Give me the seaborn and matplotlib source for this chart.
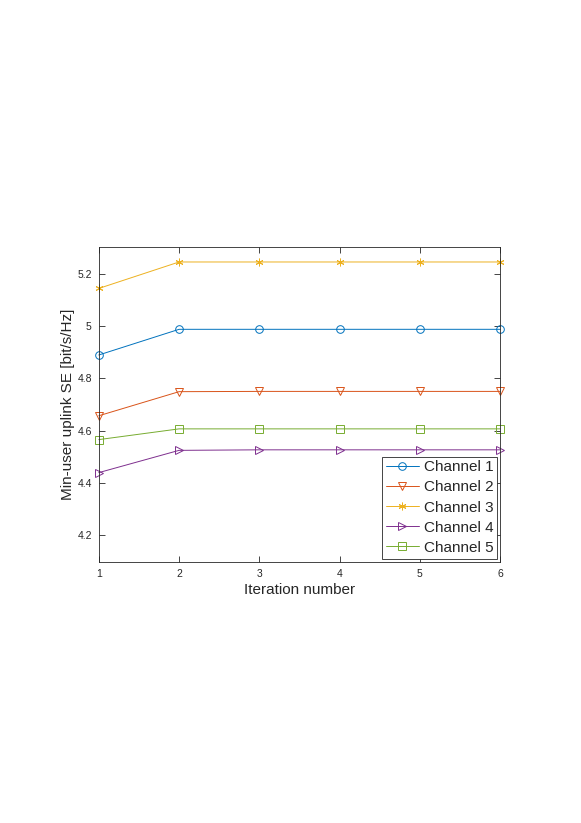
import pandas as pd
import matplotlib
matplotlib.use('Agg')
import matplotlib.pyplot as plt
import seaborn as sns

# ── Data ──────────────────────────────────────────────────────────────────────
iterations = [1, 2, 3, 4, 5, 6]
channel_1 = [4.889, 4.987, 4.987, 4.987, 4.987, 4.987]
channel_2 = [4.657, 4.749, 4.750, 4.750, 4.750, 4.750]
channel_3 = [5.143, 5.244, 5.244, 5.244, 5.244, 5.244]
channel_4 = [4.440, 4.525, 4.527, 4.527, 4.527, 4.527]
channel_5 = [4.566, 4.607, 4.607, 4.607, 4.607, 4.607]
labels = ['Channel 1', 'Channel 2', 'Channel 3', 'Channel 4', 'Channel 5']

series = [channel_1, channel_2, channel_3, channel_4, channel_5]
df = pd.concat([pd.DataFrame({'Iteration': iterations, 'SE': s, 'Channel': lab})
                for s, lab in zip(series, labels)], ignore_index=True)

# ── Style ─────────────────────────────────────────────────────────────────────
sns.set_theme(style='white')
plt.rcParams['font.family'] = ['Liberation Sans', 'DejaVu Sans']

colors = ['#0072BD', '#D95319', '#EDB120', '#7E2F8E', '#77AC30']
markers = ['o', 'v', '*', '>', 's']
palette = dict(zip(labels, colors))
marker_map = dict(zip(labels, markers))
ASTERISK = (6, 2, 0)   # MATLAB-style '*' (line art)

fig = plt.figure(figsize=(5.81, 8.23), dpi=100)
ax = fig.add_axes([0.170, 0.3175, 0.691, 0.382])

sns.lineplot(data=df, x='Iteration', y='SE', hue='Channel', style='Channel',
             palette=palette, markers=marker_map, dashes=False, linewidth=0.7,
             markersize=5.5, markeredgewidth=0.7, ax=ax)


def restyle(line, c, lab):
    line.set_markeredgecolor(c)
    line.set_markerfacecolor('none')
    if lab == 'Channel 3':
        line.set_marker(ASTERISK)


# hollow markers with coloured edges, not clipped at the axes border
for line, c, lab in zip(ax.get_lines(), colors, labels):
    restyle(line, c, lab)
    line.set_clip_on(False)

ax.set_xlim(1, 6)
ax.set_ylim(4.1, 5.3)
ax.set_xticks(iterations)
ax.set_yticks([4.2, 4.4, 4.6, 4.8, 5.0, 5.2])
ax.set_yticklabels(['4.2', '4.4', '4.6', '4.8', '5', '5.2'])
ax.tick_params(direction='in', length=4, width=0.6, labelsize=7.5, colors='#262626',
               top=True, right=True, bottom=True, left=True, pad=5)
for sp in ax.spines.values():
    sp.set_color('#262626')
    sp.set_linewidth(0.6)

ax.set_xlabel('Iteration number', fontsize=11, color='#262626', labelpad=3)
ax.set_ylabel('Min-user uplink SE [bit/s/Hz]', fontsize=11, color='#262626', labelpad=2)

handles, _ = ax.get_legend_handles_labels()
for h, c, lab in zip(handles, colors, labels):
    restyle(h, c, lab)
leg = ax.legend(handles, labels, loc='lower right', fontsize=11, frameon=True,
                fancybox=False, edgecolor='#262626', framealpha=1,
                borderpad=0.25, labelspacing=0.4, handlelength=2.2,
                handletextpad=0.3, borderaxespad=0.2)
leg.get_frame().set_linewidth(0.6)
leg.set_zorder(5)

plt.savefig('out.png', dpi=100)
